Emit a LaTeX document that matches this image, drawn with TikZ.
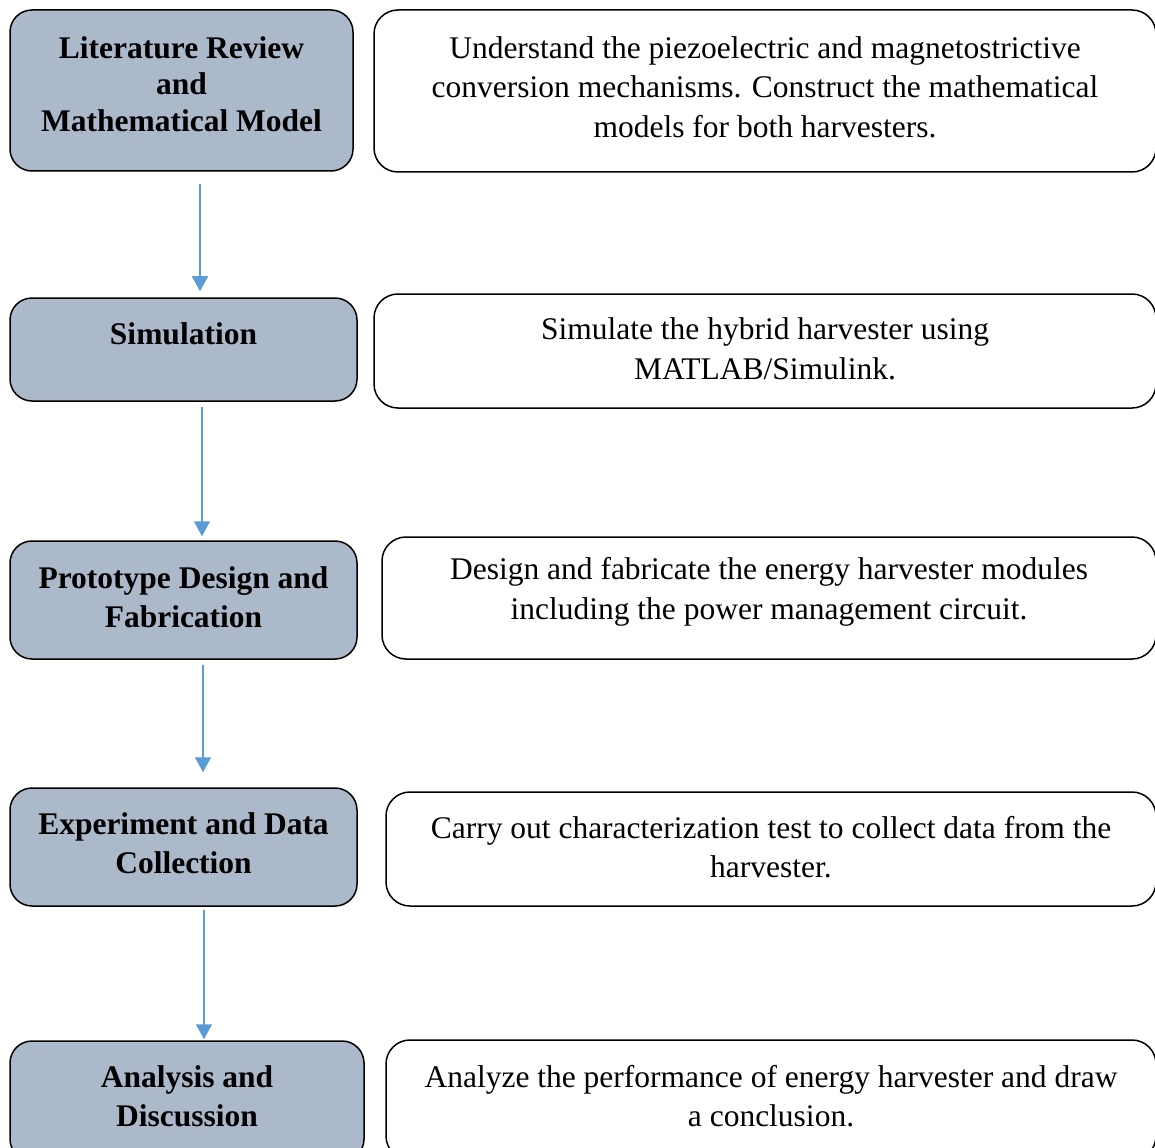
\documentclass[tikz,border=0pt]{standalone}
\usepackage{fontspec}
\setmainfont{Liberation Serif}
\usetikzlibrary{arrows.meta}
\definecolor{boxfill}{HTML}{ACB9CA}
\definecolor{arrowblue}{HTML}{5B9BD5}
\tikzset{
  leftbox/.style={draw=black, line width=1.5pt, fill=boxfill, rounded corners=22pt, rectangle, inner sep=0pt},
  rightbox/.style={draw=black, line width=1.5pt, fill=white, rounded corners=24pt, rectangle, inner sep=0pt},
  ltext/.style={align=center, font=\fontsize{31.5}{39}\selectfont\bfseries, inner sep=0pt},
  rtext/.style={align=center, font=\fontsize{31.5}{39.5}\selectfont, inner sep=0pt},
  flow/.style={draw=arrowblue, line width=1.5pt, -{Triangle[width=16pt 0,length=15pt 0]}}
}
\begin{document}
\begin{tikzpicture}[x=1pt,y=-1pt]
\clip (0,0) rectangle (1155,1147);
\fill[white] (0,0) rectangle (1155,1147);
% left boxes
\node[leftbox, minimum width=343pt, minimum height=161pt] (l1) at (181.5,90.5) {};
\node[leftbox, minimum width=347pt, minimum height=103pt] (l2) at (183.5,349.5) {};
\node[leftbox, minimum width=347pt, minimum height=118pt] (l3) at (183.5,600) {};
\node[leftbox, minimum width=347pt, minimum height=118pt] (l4) at (183.5,847) {};
\node[leftbox, minimum width=354pt, minimum height=120pt] (l5) at (187,1101) {};
% right boxes
\node[rightbox, minimum width=782pt, minimum height=162pt] (r1) at (765,91) {};
\node[rightbox, minimum width=782pt, minimum height=114pt] (r2) at (765,351) {};
\node[rightbox, minimum width=774pt, minimum height=122pt] (r3) at (769,598) {};
\node[rightbox, minimum width=770pt, minimum height=114pt] (r4) at (771,849) {};
\node[rightbox, minimum width=770pt, minimum height=120pt] (r5) at (771,1100) {};
% left texts
\node[ltext, font=\fontsize{31.5}{36.5}\selectfont\bfseries] (t1) at (181.5,84) {Literature Review\\and\\Mathematical Model};
\node[ltext] (t2) at (183.5,334) {Simulation};
\node[ltext] (t3) at (183.5,597) {Prototype Design and\\Fabrication};
\node[ltext] (t4) at (183.5,843) {Experiment and Data\\Collection};
\node[ltext] (t5) at (187,1096) {Analysis and\\Discussion};
% right texts
\node[rtext] (u1) at (765,87) {Understand the piezoelectric and magnetostrictive\\conversion mechanisms. Construct the mathematical\\models for both harvesters.};
\node[rtext] (u2) at (765,349) {Simulate the hybrid harvester using\\MATLAB/Simulink.};
\node[rtext] (u3) at (769,592) {Design and fabricate the energy harvester modules\\including the power management circuit.};
\node[rtext] (u4) at (771,847) {Carry out characterization test to collect data from the\\harvester.};
\node[rtext] (u5) at (771,1096) {Analyze the performance of energy harvester and draw\\a conclusion.};
% arrows
\coordinate (a1) at (200,184);
\coordinate (a2) at (202,407);
\coordinate (a3) at (203,665);
\coordinate (a4) at (204,910);
\draw[flow, shorten >=6pt] (a1) -- (a1 |- l2.north);
\draw[flow, shorten >=4pt] (a2) -- (a2 |- l3.north);
\draw[flow, shorten >=15pt] (a3) -- (a3 |- l4.north);
\draw[flow, shorten >=1pt] (a4) -- (a4 |- l5.north);
\end{tikzpicture}
\end{document}
